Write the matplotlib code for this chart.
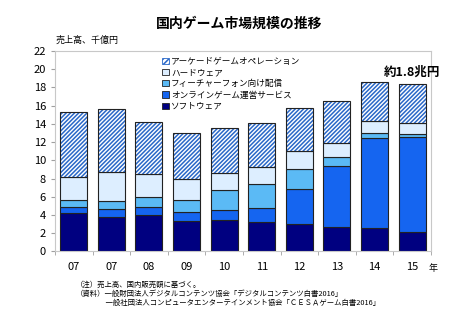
import matplotlib.pyplot as plt
import numpy as np

plt.rcParams['font.family'] = ['Noto Sans CJK JP', 'DejaVu Sans']

years = ['07', '07', '08', '09', '10', '11', '12', '13', '14', '15']

# 売上高（千億円）
software = [4.2, 3.8, 4.0, 3.35, 3.45, 3.2, 2.95, 2.65, 2.55, 2.1]
online = [0.65, 0.8, 0.85, 0.95, 1.1, 1.6, 3.85, 6.75, 9.95, 10.5]
feature = [0.75, 0.9, 1.1, 1.3, 2.15, 2.65, 2.25, 0.95, 0.5, 0.25]
hardware = [2.6, 3.25, 2.55, 2.3, 1.85, 1.8, 1.95, 1.55, 1.3, 1.3]
arcade = [7.05, 6.85, 5.7, 5.05, 5.0, 4.9, 4.7, 4.6, 4.3, 4.25]

labels = ['ソフトウェア', 'オンラインゲーム運営サービス', 'フィーチャーフォン向け配信',
          'ハードウェア', 'アーケードゲームオペレーション']
colors = ['#000080', '#1565F0', '#5BBAF5', '#DDEEFF', 'white']

fig = plt.figure(figsize=(4.74, 3.21), dpi=100)
ax = fig.add_axes([0.116, 0.217, 0.793, 0.624])

x = np.arange(len(years))
w = 0.72
bottom = np.zeros(len(years))
handles = []
plt.rcParams['hatch.linewidth'] = 1.1
for vals, col, lab in zip([software, online, feature, hardware, arcade], colors, labels):
    if lab == 'アーケードゲームオペレーション':
        ax.bar(x, vals, w, bottom=bottom, color='white', edgecolor='#2A68C8',
               hatch='////////', linewidth=0)
        ax.bar(x, vals, w, bottom=bottom, facecolor='none',
               edgecolor='#222222', linewidth=0.8)
        h = plt.Rectangle((0, 0), 1, 1, facecolor='white', edgecolor='#2A68C8',
                          hatch='//////', linewidth=0.6)
    else:
        ax.bar(x, vals, w, bottom=bottom, color=col, edgecolor='#222222',
               linewidth=0.8)
        h = plt.Rectangle((0, 0), 1, 1, facecolor=col, edgecolor='#222222', linewidth=0.6)
    handles.append((h, lab))
    bottom += np.array(vals)

ax.set_xlim(-0.5, len(years) - 0.5)
ax.set_ylim(0, 22)
ax.set_yticks(range(0, 23, 2))
ax.set_xticks(x)
ax.set_xticklabels(years)
ax.set_xticks(np.arange(-0.5, len(years)), minor=True)
ax.tick_params(axis='x', which='major', length=0, labelsize=8, pad=8)
ax.tick_params(axis='x', which='minor', length=3, color='#A0A0A0')
ax.tick_params(axis='y', length=3, color='#A0A0A0', labelsize=8)
for s in ax.spines.values():
    s.set_color('#C8C8C8')
    s.set_linewidth(0.8)

hs = [h for h, _ in handles][::-1]
ls = [l for _, l in handles][::-1]
ax.legend(hs, ls, loc='upper left', bbox_to_anchor=(0.27, 1.0), frameon=False,
          fontsize=6.2, handlelength=0.7, handleheight=0.7, handletextpad=0.3,
          labelspacing=0.25, borderaxespad=0.3)

fig.text(0.505, 0.925, '国内ゲーム市場規模の推移', ha='center', va='center',
         fontsize=10, fontweight='bold')
fig.text(0.118, 0.875, '売上高、千億円', ha='left', va='center', fontsize=6.5)
ax.text(len(years) - 1, bottom[-1] + 1.3, '約1.8兆円', ha='center', va='center',
        fontsize=9, fontweight='bold')
fig.text(0.905, 0.165, '年', ha='left', va='center', fontsize=6.5)

notes = ['（注）売上高、国内販売額に基づく。',
         '（資料）一般財団法人デジタルコンテンツ協会「デジタルコンテンツ白書2016」',
         '　　　　一般社団法人コンピュータエンターテインメント協会「ＣＥＳＡゲーム白書2016」']
for i, n in enumerate(notes):
    fig.text(0.16, 0.112 - i * 0.028, n, ha='left', va='center', fontsize=5.3)

fig.savefig('out.png', dpi=100)
